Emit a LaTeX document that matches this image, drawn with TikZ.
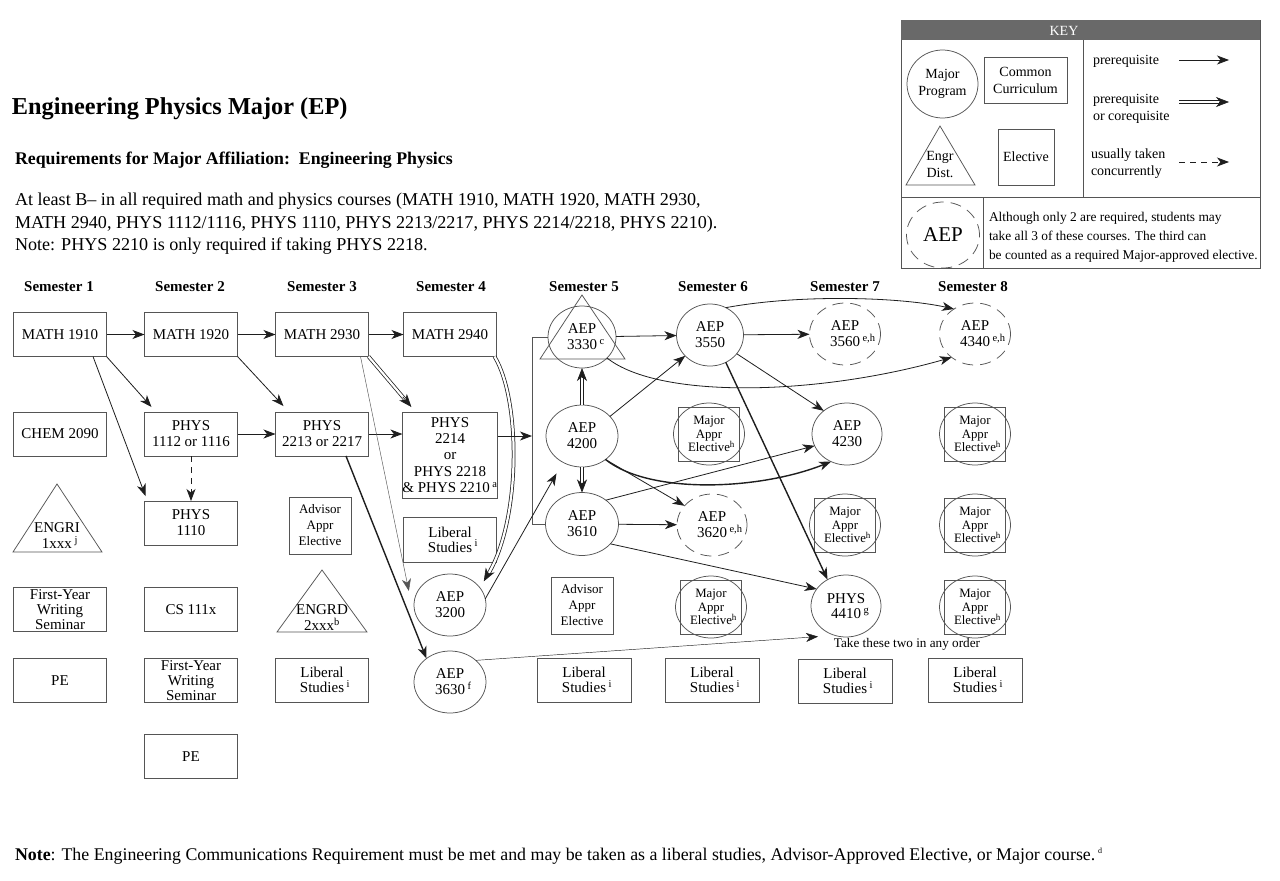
\documentclass[tikz,border=0pt]{standalone}
\usepackage{fontspec}
\setmainfont{Liberation Serif}
\usetikzlibrary{arrows.meta,shapes.geometric,calc}
\definecolor{bord}{RGB}{85,85,85}
\definecolor{lnk}{RGB}{30,30,30}
\definecolor{keybar}{RGB}{105,105,105}
\begin{document}
\begin{tikzpicture}[x=1pt,y=-1pt,
  every node/.style={inner sep=0pt, outer sep=0pt},
  txt/.style={font=\fontsize{15}{15.8}\selectfont, align=center},
  cbox/.style={draw=bord, line width=0.75pt, rectangle, minimum width=93pt, minimum height=44pt, txt},
  tight/.style={font=\fontsize{15}{14.8}\selectfont},
  smallbox/.style={draw=bord, line width=0.75pt, rectangle, minimum width=62pt, minimum height=57pt, align=center, font=\fontsize{13}{16}\selectfont},
  mcirc/.style={draw=bord, line width=0.75pt, ellipse, minimum width=72pt, minimum height=62pt, txt},
  dcirc/.style={mcirc, dash pattern=on 11pt off 7pt},
  majel/.style={draw=bord, line width=0.75pt, rectangle, minimum width=61pt, minimum height=54pt, align=center, font=\fontsize{12.8}{13.8}\selectfont},
  pre/.style={draw=lnk, line width=0.8pt, -{Stealth[length=12pt,width=9pt,inset=3.5pt]}},
  prethick/.style={pre, line width=1.4pt},
  prethin/.style={pre, line width=0.45pt, draw=bord},
  coreq/.style={draw=lnk, line width=0.75pt, double, double distance=2.2pt, shorten >=8pt},
  coreqtip/.style={draw=lnk, fill=lnk, line width=0.6pt, -{Stealth[length=13pt,width=10pt,inset=4pt]}},
  conc/.style={pre, dash pattern=on 6pt off 5pt},
  sem/.style={font=\fontsize{15}{15}\bfseries\selectfont},
  ktxt/.style={font=\fontsize{14}{17}\selectfont},
]
\useasboundingbox (0,0) rectangle (1280,881);
\fill[white] (0,0) rectangle (1280,881);

% ---------- header text ----------
\node[anchor=base west, font=\fontsize{24.3}{28}\bfseries\selectfont] (title) at (12,114) {Engineering Physics Major (EP)};
\node[anchor=base west, font=\fontsize{17.8}{20}\bfseries\selectfont] (sub) at (15,164) {Requirements for Major Affiliation:\ \ Engineering Physics};
\node[anchor=base west, font=\fontsize{18.1}{22}\selectfont] (l1) at (15,205) {At least B– in all required math and physics courses (MATH 1910, MATH 1920, MATH 2930,};
\node[anchor=base west, font=\fontsize{18.1}{22}\selectfont] (l2) at (15,228) {MATH 2940, PHYS 1112/1116, PHYS 1110, PHYS 2213/2217, PHYS 2214/2218, PHYS 2210).};
\node[anchor=base west, font=\fontsize{18.1}{22}\selectfont] (l3) at (15,250) {Note: PHYS 2210 is only required if taking PHYS 2218.};

% ---------- key ----------
\draw[bord, line width=0.8pt] (901,20) rectangle (1260,268);
\fill[keybar] (901,20) rectangle (1260,40);
\node[font=\fontsize{14}{14}\selectfont, text=white] (keyt) at (1064,30.5) {KEY};
\draw[bord, line width=0.8pt] (1083.5,40) -- (1083.5,197);
\draw[bord, line width=0.8pt] (901,197) -- (1260,197);
\draw[bord, line width=0.8pt] (983.5,197) -- (983.5,268);
\node[draw=bord, line width=0.75pt, ellipse, minimum width=71pt, minimum height=68pt, align=center, ktxt] (kmaj) at (942.5,84) {Major\\Program};
\node[draw=bord, line width=0.75pt, rectangle, minimum width=83pt, minimum height=46pt, align=center, ktxt] (kcom) at (1025.5,80) {Common\\Curriculum};
\draw[bord, line width=0.75pt] (940,126) -- (975,185) -- (906,185) -- cycle;
\node[align=center, ktxt] (kengr) at (940,164.5) {Engr\\Dist.};
\node[draw=bord, line width=0.75pt, rectangle, minimum width=56pt, minimum height=56pt, ktxt] (kel) at (1026,157) {Elective};
\node[anchor=base west, ktxt] (kp1) at (1093,64.5) {prerequisite};
\node[anchor=base west, ktxt] (kp2) at (1093,103.5) {prerequisite};
\node[anchor=base west, ktxt] (kp3) at (1093,120.5) {or corequisite};
\node[anchor=base west, ktxt] (kp4) at (1091,158.5) {usually taken};
\node[anchor=base west, ktxt] (kp5) at (1091,175.5) {concurrently};
\coordinate (ka1) at (1179,60); \coordinate (kb1) at (1229,60);
\coordinate (ka2) at (1179,102); \coordinate (kb2) at (1229,102);
\coordinate (kc2) at (1219,102);
\coordinate (ka3) at (1179,162); \coordinate (kb3) at (1229,162);
\draw[pre] (ka1) -- (kb1);
\draw[coreq] (ka2) -- (kb2);
\draw[coreqtip] (kc2) -- (kb2);
\draw[conc] (ka3) -- (kb3);
\node[draw=bord, line width=0.75pt, ellipse, minimum width=73pt, minimum height=66pt, dash pattern=on 11pt off 7pt, font=\fontsize{21}{21}\selectfont] (kaep) at (943,235) {AEP};
\node[anchor=base west, font=\fontsize{13.4}{19}\selectfont] (kn1) at (989,221) {Although only 2 are required, students may};
\node[anchor=base west, font=\fontsize{13.4}{19}\selectfont] (kn2) at (989,240) {take all 3 of these courses. The third can};
\node[anchor=base west, font=\fontsize{13.4}{19}\selectfont] (kn3) at (989,259) {be counted as a required Major-approved elective.};

% ---------- semester headers ----------
\node[sem] (s1) at (59,287) {Semester 1};
\node[sem] (s2) at (190,287) {Semester 2};
\node[sem] (s3) at (322,287) {Semester 3};
\node[sem] (s4) at (451,287) {Semester 4};
\node[sem] (s5) at (584,287) {Semester 5};
\node[sem] (s6) at (713,287) {Semester 6};
\node[sem] (s7) at (845,287) {Semester 7};
\node[sem] (s8) at (973,287) {Semester 8};

% ---------- column 1 ----------
\node[cbox] (m1910) at (60,334.5) {MATH 1910};
\node[cbox] (chem) at (60,434) {CHEM 2090};
\draw[bord, line width=0.75pt] (57,484) -- (102,552) -- (13,552) -- cycle;
\node[txt, font=\fontsize{15}{16}\selectfont] (engri) at (57,536) {ENGRI\\1xxx\rlap{\,\textsuperscript{j}}};
\node[cbox, tight] (fyws1) at (60,609.5) {First-Year\\Writing\\Seminar};
\node[cbox] (pe1) at (60,680.5) {PE};

% ---------- column 2 ----------
\node[cbox] (m1920) at (191,334.5) {MATH 1920};
\node[cbox] (p1112) at (191,434) {PHYS\\1112 or 1116};
\node[cbox] (p1110) at (191,523) {PHYS\\1110};
\node[cbox] (cs) at (191,609.5) {CS 111x};
\node[cbox, tight] (fyws2) at (191,680.5) {First-Year\\Writing\\Seminar};
\node[cbox] (pe2) at (191,756.5) {PE};

% ---------- column 3 ----------
\node[cbox] (m2930) at (322,334.5) {MATH 2930};
\node[cbox] (p2213) at (322,434) {PHYS\\2213 or 2217};
\node[smallbox] (adv3) at (320,525.5) {Advisor\\Appr\\Elective};
\draw[bord, line width=0.75pt] (322,570) -- (367,632) -- (277,632) -- cycle;
\node[txt, font=\fontsize{15}{16}\selectfont] (engrd) at (322,618) {ENGRD\\2xxx\textsuperscript{b}};
\node[cbox, tight] (lib3) at (322,680) {Liberal\\Studies\rlap{\,\textsuperscript{i}}};

% ---------- column 4 ----------
\node[cbox] (m2940) at (450,334.5) {MATH 2940};
\node[cbox, minimum height=86pt, font=\fontsize{15}{16.4}\selectfont] (p2214) at (450,455) {PHYS\\2214\\or\\PHYS 2218\\\& PHYS 2210\,\textsuperscript{a}};
\node[cbox, tight, minimum height=45pt] (lib4) at (450,539.5) {Liberal\\Studies\rlap{\,\textsuperscript{i}}};
\node[mcirc] (aep3200) at (450,605) {AEP\\3200};
\node[mcirc] (aep3630) at (450,682) {AEP\\3630\rlap{\,\textsuperscript{f}}};

% ---------- column 5 ----------
\draw[bord, line width=0.75pt] (582,295) -- (625,359) -- (540,359) -- cycle;
\node[mcirc, minimum width=68pt] (aep3330) at (582,337) {AEP\\3330\rlap{\,\textsuperscript{c}}};
\node[mcirc] (aep4200) at (582,436) {AEP\\4200};
\node[mcirc, minimum width=73pt, minimum height=63pt] (aep3610) at (582,524) {AEP\\3610};
\node[smallbox] (adv5) at (582,605.5) {Advisor\\Appr\\Elective};
\node[cbox, tight, minimum width=94pt] (lib5) at (584,680) {Liberal\\Studies\rlap{\,\textsuperscript{i}}};

% ---------- column 6 ----------
\node[mcirc, minimum width=67pt] (aep3550) at (710,335) {AEP\\3550};
\node[majel] (maj6a) at (709,434) {Major\\Appr\\Elective\rlap{\textsuperscript{h}}};
\draw[bord, line width=0.75pt] (maj6a.center) ellipse [x radius=35.5pt, y radius=31pt];
\node[dcirc, minimum width=70pt] (aep3620) at (712,525) {AEP\\3620\rlap{\,\textsuperscript{e,h}}};
\node[majel] (maj6b) at (711,607) {Major\\Appr\\Elective\rlap{\textsuperscript{h}}};
\draw[bord, line width=0.75pt] (maj6b.center) ellipse [x radius=35.5pt, y radius=31pt];
\node[cbox, tight, minimum width=94pt] (lib6) at (712,680) {Liberal\\Studies\rlap{\,\textsuperscript{i}}};

% ---------- column 7 ----------
\node[dcirc, minimum width=71pt] (aep3560) at (845,334) {AEP\\3560\rlap{\,\textsuperscript{e,h}}};
\node[mcirc, minimum width=70pt] (aep4230) at (847,434) {AEP\\4230};
\node[majel] (maj7a) at (845,525) {Major\\Appr\\Elective\rlap{\textsuperscript{h}}};
\draw[bord, line width=0.75pt] (maj7a.center) ellipse [x radius=35.5pt, y radius=31pt];
\node[mcirc, minimum width=70pt] (aep4410) at (846,606) {PHYS\\4410\rlap{\,\textsuperscript{g}}};
\node[font=\fontsize{13.2}{14}\selectfont] (take) at (907,644) {Take these two in any order};
\node[cbox, tight, minimum width=94pt] (lib7) at (845,681) {Liberal\\Studies\rlap{\,\textsuperscript{i}}};

% ---------- column 8 ----------
\node[dcirc, minimum width=71pt] (aep4340) at (975,334) {AEP\\4340\rlap{\,\textsuperscript{e,h}}};
\node[majel] (maj8a) at (975,434) {Major\\Appr\\Elective\rlap{\textsuperscript{h}}};
\draw[bord, line width=0.75pt] (maj8a.center) ellipse [x radius=35.5pt, y radius=31pt];
\node[majel] (maj8b) at (975,525) {Major\\Appr\\Elective\rlap{\textsuperscript{h}}};
\draw[bord, line width=0.75pt] (maj8b.center) ellipse [x radius=35.5pt, y radius=31pt];
\node[majel] (maj8c) at (975,607) {Major\\Appr\\Elective\rlap{\textsuperscript{h}}};
\draw[bord, line width=0.75pt] (maj8c.center) ellipse [x radius=35.5pt, y radius=31pt];
\node[cbox, tight, minimum width=94pt] (lib8) at (975,680) {Liberal\\Studies\rlap{\,\textsuperscript{i}}};

% ---------- bottom note ----------
\node[anchor=base west, font=\fontsize{17.85}{20}\selectfont] (note) at (15,860) {\textbf{Note}: The Engineering Communications Requirement must be met and may be taken as a liberal studies, Advisor-Approved Elective, or Major course.\,\textsuperscript{\footnotesize d}};

% ---------- connectors ----------
\draw[pre] (m1910) -- (m1920);
\draw[pre] (m1920) -- (m2930);
\draw[pre] (m2930) -- (m2940);
\draw[pre] (m1910.south east) -- ([shift={(7,-5)}]p1112.north west);
\draw[pre] ([xshift=33]m1910.south) -- ([shift={(1,-5)}]p1110.north west);
\draw[conc] (p1112) -- (p1110);
\draw[pre] (p1112) -- (p2213);
\draw[pre] (m1920.south east) -- ([shift={(8,-6)}]p2213.north west);
% MATH 2930 => PHYS 2214 (coreq)
\coordinate (t1) at ([shift={(9,-5)}]p2214.north west);
\draw[coreq] (m2930.south east) -- (t1);
\draw[coreqtip] ($(m2930.south east)!0.8!(t1)$) -- (t1);
\draw[pre] (p2213) -- (p2213 -| p2214.west);
\draw[prethin] ([xshift=-8]m2930.south east) -- ([shift={(-8,-2)}]aep3200.160);
\draw[prethick] ([xshift=24]p2213.south) -- (aep3630.135);
% MATH 2940 => AEP 3200 (coreq, curved)
\coordinate (t2) at ([shift={(8,-2)}]aep3200.40);
\draw[coreq] ([xshift=-2]m2940.south east) .. controls (521,400) and (521,520) .. (t2);
\coordinate (t2b) at ($(t2)+(4.9,-8.7)$);
\draw[coreqtip] (t2b) -- (t2);
\coordinate (brk) at (532,436);
\draw[pre] (p2214.east |- brk) -- (brk);
\draw[bord, line width=0.75pt] (aep3330.west) -- (aep3330.west -| brk) -- (aep3610.west -| brk) -- (aep3610.west);
\draw[pre] (aep3200.10) -- ([shift={(-2,14)}]aep4200.225);
% AEP 4200 => AEP 3330 and AEP 3610 (coreq)
\draw[coreq] (aep4200.north) -- (aep3330.south);
\draw[coreqtip] ([shift={(0,10)}]aep3330.south) -- (aep3330.south);
\draw[coreq] (aep4200.south) -- (aep3610.north);
\draw[coreqtip] ([shift={(0,-10)}]aep3610.north) -- (aep3610.north);
\draw[pre] (aep3330) -- (aep3550);
\draw[pre] (aep3550) -- (aep3560);
\draw[pre] (aep3550.60) .. controls (800,294) and (900,297) .. (aep4340.130);
\draw[pre] (aep3330.-40) .. controls (660,400) and (820,395) .. (aep4340.225);
\draw[pre] (aep3550.-35) -- (aep4230.135);
\draw[prethick] (aep3550.-60) -- (aep4410.125);
\draw[pre] (aep4200.35) -- (aep3550.220);
\draw[pre] (aep4200.-45) -- (aep3620.145);
\draw[prethick] (aep4200.-45) .. controls (650,495) and (760,490) .. (aep4230.240);
\draw[pre] (aep3610.45) -- (aep4230.200);
\draw[pre] (aep3610) -- (aep3620);
\draw[pre] (aep3610.-35) -- (aep4410.150);
\draw[prethin, draw=lnk] (aep3630.40) -- ([shift={(-12,3)}]aep4410.240);
\end{tikzpicture}
\end{document}
